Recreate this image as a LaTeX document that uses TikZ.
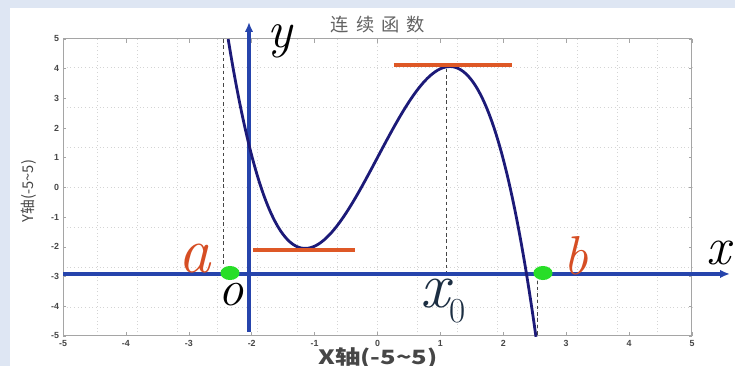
\documentclass[tikz,border=0pt]{standalone}
\usepackage{fontspec}
\usepackage{graphicx}
\setsansfont{Liberation Sans}
\newfontfamily\cjk{Noto Sans CJK SC}
\usetikzlibrary{arrows.meta}

\definecolor{axisblue}{RGB}{38,68,172}
\definecolor{curvenavy}{RGB}{28,26,120}
\definecolor{tangentorange}{RGB}{222,88,38}
\definecolor{pointgreen}{RGB}{40,222,40}
\definecolor{labelred}{RGB}{214,78,36}
\definecolor{labelslate}{RGB}{28,46,66}
\definecolor{gridgray}{RGB}{212,212,212}
\definecolor{framegray}{RGB}{165,165,165}
\definecolor{tickgray}{RGB}{70,70,70}
\definecolor{bgblue}{RGB}{222,230,243}

\tikzset{
	axis/.style={axisblue, line width=2.2pt, -{Latex[length=7pt,width=6pt]}},
	tangent/.style={tangentorange, line width=2.8pt},
	guide/.style={tickgray, line width=0.6pt, dash pattern=on 2.5pt off 2pt},
	bigletter/.style={inner sep=0pt, font=\fontsize{#1}{#1}\selectfont\itshape},
	ticklabel/.style={tickgray, inner sep=0pt, font=\sffamily\bfseries\fontsize{6.3}{6.3}\selectfont},
}

\begin{document}
\begin{tikzpicture}[x=1.5725cm, y=0.7425cm]
		% page and margins
		\fill[bgblue] (-6.002,-6.010) rectangle (5.684,6.313);
		\fill[white] (-5.843,-6.010) rectangle (5.684,6.044);
		\useasboundingbox (-6.002,-6.010) rectangle (5.684,6.313);

		% grid, frame and ticks
		\draw[gridgray, dotted, line width=0.6pt] (-5,-5) grid (5,5);
		\draw[framegray, line width=0.7pt] (-5,-5) rectangle (5,5);
		\foreach \i [count=\k] in {-5,...,5} {
			\draw[framegray] (\i,-5) -- (\i,-4.88);
			\draw[framegray] (\i,5) -- (\i,4.88);
			\draw[framegray] (-5,\i) -- (-4.95,\i);
			\draw[framegray] (5,\i) -- (4.95,\i);
			\node[ticklabel] (xt\k) at (\i,-5.24) {\i};
			\node[ticklabel, anchor=east] (yt\k) at (-5.06,\i) {\i};
		}

		% titles
		\node[text=tickgray!85, font=\cjk\fontsize{13}{13}\selectfont] (title) at (0.008,5.47) {连\hspace{5pt}续\hspace{5pt}函\hspace{5pt}数};
		\node[rotate=90, text=tickgray, font=\cjk\fontsize{10.5}{10.5}\selectfont] (ylab) at (-5.54,-0.12) {Y轴(-5\textasciitilde5)};
		\node[text=tickgray, font=\cjk\bfseries\fontsize{14}{14}\selectfont] (xlab) at (0.008,-5.74) {\scalebox{1.3}[1]{X轴(-5\textasciitilde5)}};

		% guides
		\draw[guide] (-2.456,5) -- (-2.456,-2.63);
		\draw[guide] (1.089,4.0) -- (1.089,-2.92);
		\draw[guide] (2.536,-2.92) -- (2.536,-5);

		% axes
		\coordinate (xstart) at (-5,-2.912);
		\coordinate (xend) at (5.604,-2.912);
		\coordinate (ystart) at (-2.043,-4.865);
		\coordinate (yend) at (-2.043,5.572);
		\draw[axis] (xstart) -- (xend);
		\draw[axis] (ystart) -- (yend);

		% curve and tangents
		\draw[curvenavy, line width=2pt] plot[domain=-2.374:2.52, samples=120, smooth] (\x, {-3.02*(\x*\x*\x/3 - 1.3225*\x) + 1.01});
		\draw[tangent] (0.262,4.125) -- (2.138,4.125);
		\draw[tangent] (-1.979,-2.121) -- (-0.358,-2.121);

		% end points
		\fill[pointgreen] (-2.345,-2.88) ellipse [x radius=6.8pt, y radius=5pt];
		\fill[pointgreen] (2.631,-2.88) ellipse [x radius=6.8pt, y radius=5pt];

		% letters
		\node[bigletter=46, text=labelred, anchor=base] (a) at (-2.901,-2.879) {a};
		\node[bigletter=39, text=labelred, anchor=base] (b) at (3.156,-2.946) {b};
		\node[bigletter=38, anchor=base] (xname) at (5.429,-2.609) {x};
		\node[bigletter=37, anchor=base] (yname) at (-1.55,4.70) {y};
		\node[bigletter=36, anchor=base] (origin) at (-2.329,-3.99) {o};
		\node[bigletter=46, text=labelslate, anchor=base west] (xzero) at (0.676,-4.057) {x\raisebox{-10pt}{\upshape\fontsize{25}{25}\selectfont 0}};
\end{tikzpicture}
\end{document}
